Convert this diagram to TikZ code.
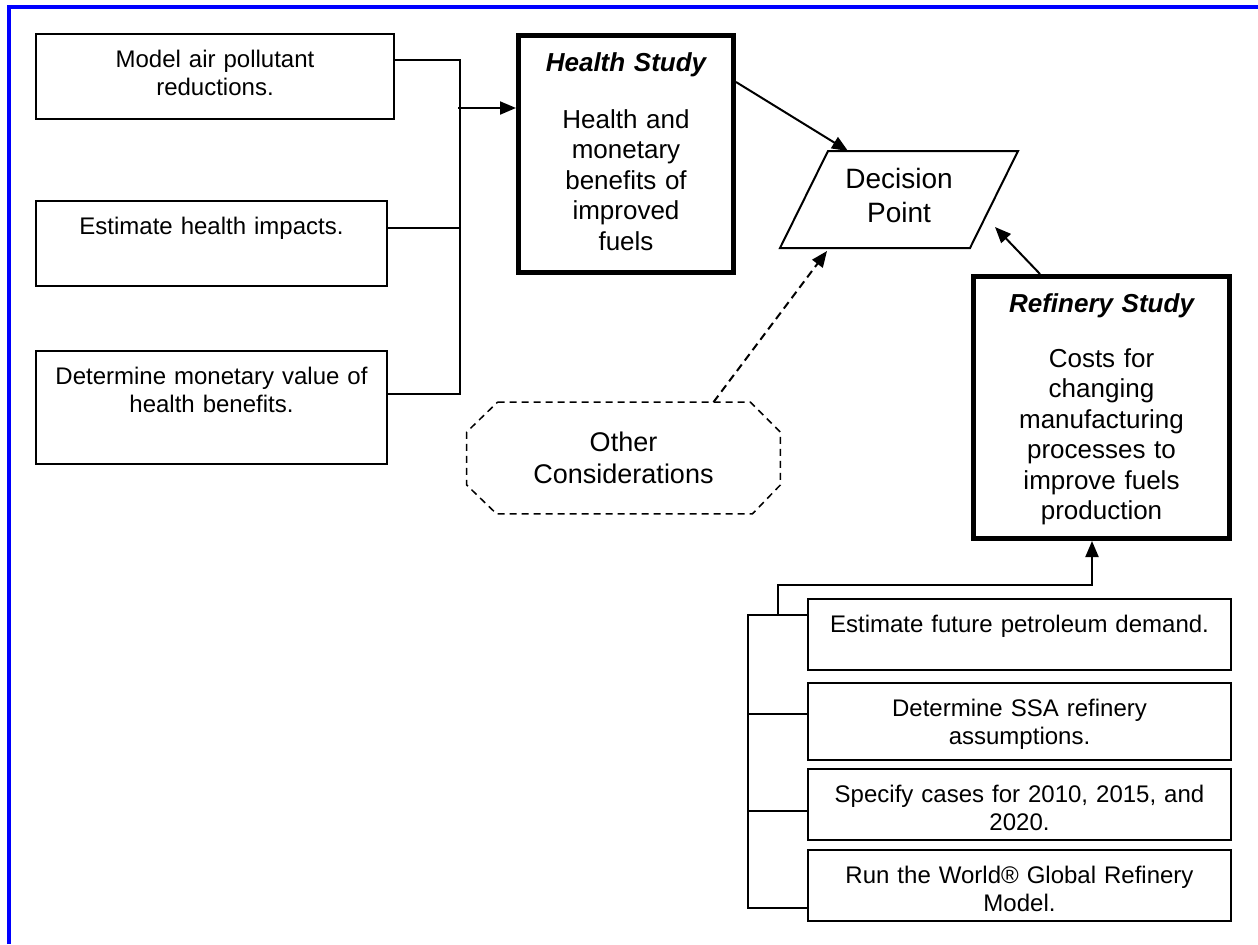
\documentclass[tikz,border=0pt]{standalone}
\usepackage{fontspec}
\setmainfont{Liberation Sans}
\usetikzlibrary{calc}
\usetikzlibrary{arrows.meta}

\newcommand{\boxfont}{\fontsize{12pt}{14pt}\selectfont}
\newcommand{\studyfont}{\fontsize{13pt}{15.25pt}\selectfont}
\newcommand{\decfont}{\fontsize{14pt}{17pt}\selectfont}
\newcommand{\consfont}{\fontsize{13.5pt}{16pt}\selectfont}

\begin{document}
\begin{tikzpicture}[x=0.5pt,y=-0.5pt,
  stepbox/.style 2 args={draw,line width=1pt,anchor=north west,inner sep=0pt,align=center,
    font=\boxfont,text width=#1,text height=16.5pt,text depth=#2},
  studybox/.style 2 args={draw,line width=2.5pt,anchor=north west,inner sep=0pt,align=center,
    font=\studyfont,text width=#1,text height=18pt,text depth=#2},
  arr/.style={line width=1pt,-{Triangle[length=8pt,width=6.5pt]}},
  wire/.style={line width=1pt}]

\useasboundingbox (0,0) rectangle (1258,944);

% frame
\draw[blue,line width=2pt] (9,944) -- (9,7) -- (1258,7);

% Health Study inputs
\node[stepbox={179pt}{26pt}] (ModelBox) at (35,33) {Model air pollutant\\reductions.};
\node[stepbox={175.5pt}{26pt}] (ImpactBox) at (35,200) {Estimate health impacts.};
\node[stepbox={175.5pt}{40pt}] (MonetaryBox) at (35,350) {Determine monetary value of\\health benefits.};

% Health Study
\node[studybox={107.5pt}{100.5pt}] (HealthStudy) at (516,33)
  {{\bfseries\itshape Health Study}\\[13pt]Health and\\monetary\\benefits of\\improved\\fuels};

\draw[wire] ($(ModelBox.north east)+(0,27)$) -| ($(MonetaryBox.north east)+(72,44)$) -- ($(MonetaryBox.north east)+(0,44)$);
\draw[wire] ($(ImpactBox.north east)+(0,28)$) -- ++(72,0);
\draw[arr] ($(HealthStudy.north west)+(-58,75)$) -- ($(HealthStudy.north west)+(0,75)$);

% Decision Point
\node[font=\decfont,align=center] (DecisionPoint) at (899,195) {Decision\\Point};
\coordinate (DecTL) at (828,151);
\coordinate (DecTR) at (1018,151);
\coordinate (DecBR) at (970,248);
\coordinate (DecBL) at (780,248);
\draw[wire] (DecTL) -- (DecTR) -- (DecBR) -- (DecBL) -- cycle;

\coordinate (HealthIn) at (848,151);
\coordinate (RefineryIn) at (995,227);
\coordinate (OtherIn) at (827,251);

% Other Considerations
\node[minimum width=156.5pt,minimum height=55.5pt,inner sep=0pt,align=center,font=\consfont]
  (OtherCons) at (623.5,458) {Other\\Considerations};
\draw[line width=0.75pt,dash pattern=on 3.5pt off 2.5pt]
  ($(OtherCons.north west)+(31,0)$) -- ($(OtherCons.north east)+(-30,0)$)
  -- ($(OtherCons.north east)+(0,30)$) -- ($(OtherCons.south east)+(0,-29)$)
  -- ($(OtherCons.south east)+(-28,0)$) -- ($(OtherCons.south west)+(30,0)$)
  -- ($(OtherCons.south west)+(0,-29)$) -- ($(OtherCons.north west)+(0,30)$) -- cycle;

% Refinery Study
\node[studybox={128pt}{113pt}] (RefineryStudy) at (971,274)
  {{\bfseries\itshape Refinery Study}\\[12pt]Costs for\\changing\\manufacturing\\processes to\\improve fuels\\production};

% Refinery Study inputs
\node[stepbox={211.5pt}{19pt}] (DemandBox) at (807,598) {Estimate future petroleum demand.};
\node[stepbox={211.5pt}{22pt}] (SsaBox) at (807,682) {Determine SSA refinery\\assumptions.};
\node[stepbox={211.5pt}{19pt}] (CasesBox) at (807,768) {Specify cases for 2010, 2015, and\\2020.};
\node[stepbox={211.5pt}{19pt}] (RunModelBox) at (807,849) {Run the World® Global Refinery\\Model.};

\draw[wire] ($(DemandBox.north west)+(0,17)$) -- ++(-59,0) |- ($(RunModelBox.north west)+(0,59)$);
\draw[wire] ($(SsaBox.north west)+(0,32)$) -- ++(-59,0);
\draw[wire] ($(CasesBox.north west)+(0,43)$) -- ++(-59,0);
\draw[arr] ($(DemandBox.north west)+(-29,17)$) -- ++(0,-30) -| ($(RefineryStudy.south west)+(121,0)$);

% into Decision Point
\draw[arr] ($(HealthStudy.north east)+(0,49)$) -- (HealthIn);
\draw[arr] ($(RefineryStudy.north west)+(69,0)$) -- (RefineryIn);
\draw[arr,dash pattern=on 4pt off 2.5pt] ($(OtherCons.north)+(90,0)$) -- (OtherIn);

\end{tikzpicture}
\end{document}
